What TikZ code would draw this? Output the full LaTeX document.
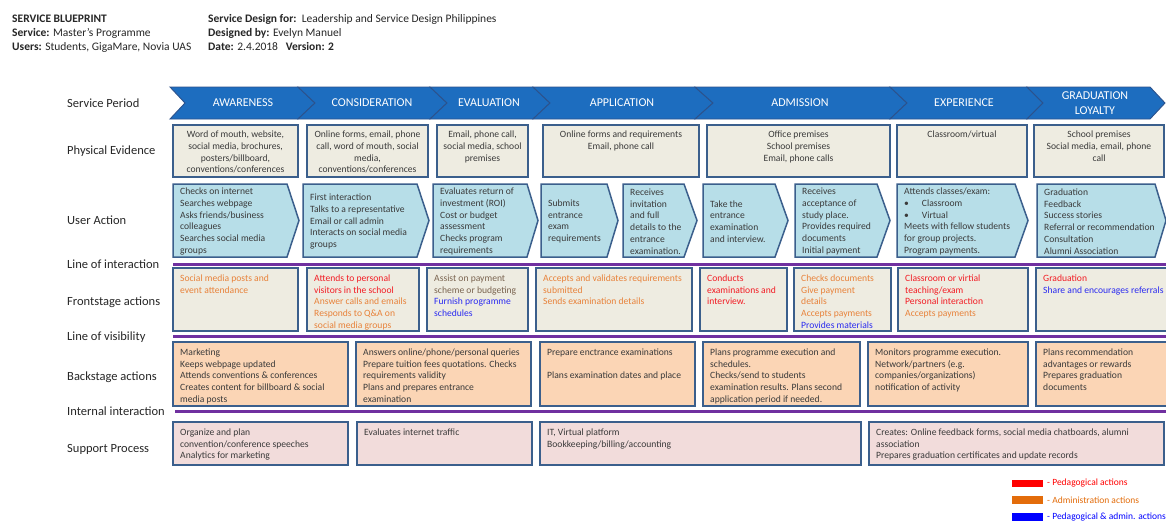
\documentclass[tikz,border=0pt]{standalone}
\usepackage{fontspec}
\setmainfont{Carlito}
\definecolor{chevblue}{HTML}{1D6DBF}
\definecolor{chevline}{HTML}{2C528C}
\definecolor{boxline}{HTML}{3B5F8C}
\definecolor{beige}{HTML}{EEECE1}
\definecolor{lightblue}{HTML}{B7DEE8}
\definecolor{peach}{HTML}{FBD5B5}
\definecolor{pinkish}{HTML}{F2DCDB}
\definecolor{purp}{HTML}{7030A0}
\definecolor{txt}{HTML}{3A3A3A}
\definecolor{ored}{HTML}{F21C24}
\definecolor{oorange}{HTML}{E8823A}
\definecolor{oblue}{HTML}{2B2BF0}
\definecolor{obrown}{HTML}{7A6450}
\definecolor{legred}{HTML}{FF0000}
\definecolor{legorange}{HTML}{E36C0A}
\definecolor{legblue}{HTML}{0000FF}
\newcommand\boxfont{\fontsize{9.6}{11.7}\selectfont}
\newcommand\rowfont{\fontsize{12.5}{14}\selectfont}
\newcommand\headfont{\fontsize{11.5}{14}\selectfont}
\newcommand\cRed[1]{\textcolor{ored}{#1}}
\newcommand\cOra[1]{\textcolor{oorange}{#1}}
\newcommand\cBlu[1]{\textcolor{oblue}{#1}}
\newcommand\cBro[1]{\textcolor{obrown}{#1}}
\newcommand\peBox[6]{%
  \draw[pebox] (#2,#4) rectangle (#3,#5);
  \node[petext, anchor=north] (#1) at ({(#2+#3)/2},{#4+6}) {#6};}
\newcommand\uaBox[5]{%
  \draw[uabox] (#2,184) -- (#3,184) -- (#4,220.5) -- (#3,257) -- (#2,257) -- cycle;
  \node[boxtext, anchor=west] (#1) at ({#2+7},221.5) {#5};}
\newcommand\plainBox[7]{%
  \draw[#7] (#2,#4) rectangle (#3,#5);
  \node[boxtext, anchor=north west] (#1) at ({#2+7},{#4+6.5}) {#6};}
\newcommand\chevron[7]{%
  \draw[chev] (#2,87) -- (#4,87) -- (#5,103) -- (#4,119) -- (#2,119) -- (#3,103) -- cycle;
  \node[chevtext] (#1) at (#6,103) {#7};}
\tikzset{
  pebox/.style={draw=boxline, line width=1.8pt, fill=beige},
  uabox/.style={draw=boxline, line width=1.5pt, fill=lightblue, line join=miter},
  fsbox/.style={draw=boxline, line width=1.8pt, fill=beige},
  bsbox/.style={draw=boxline, line width=1.8pt, fill=peach},
  spbox/.style={draw=boxline, line width=1.8pt, fill=pinkish},
  petext/.style={font=\boxfont, text=txt, align=center, inner sep=0pt},
  boxtext/.style={font=\boxfont, text=txt, align=left, inner sep=0pt},
  chev/.style={fill=chevblue, draw=chevline, line width=0.9pt},
  chevtext/.style={font=\fontsize{12}{15}\selectfont, text=white, align=center, inner sep=0pt},
  rowlabel/.style={font=\rowfont, text=black!85, anchor=west, inner sep=0pt},
  head/.style={font=\headfont, text=black!85, anchor=west, inner sep=0pt},
  sepline/.style={draw=purp, line width=2.6pt},
  leg/.style={font=\fontsize{9.5}{11}\selectfont, anchor=west, inner sep=0pt},
}
\begin{document}
\begin{tikzpicture}[x=1pt,y=-1pt]
\useasboundingbox (0,0) rectangle (1166,523);
\fill[white] (0,0) rectangle (1166,523);
% header
\node[head] (h1) at (12,19) {\textbf{SERVICE BLUEPRINT}};
\node[head] (h2) at (12,33) {\textbf{Service:} Master’s Programme};
\node[head] (h3) at (12,47) {\textbf{Users:} Students, GigaMare, Novia UAS};
\node[head] (h4) at (208,19) {\textbf{Service Design for:}\ \ Leadership and Service Design Philippines};
\node[head] (h5) at (208,33) {\textbf{Designed by:} Evelyn Manuel};
\node[head] (h6) at (208,47) {\textbf{Date:} 2.4.2018\ \ \ \textbf{Version: 2}};
% row labels
\node[rowlabel] (l1) at (67,103) {Service Period};
\node[rowlabel] (l2) at (67,151) {Physical Evidence};
\node[rowlabel] (l3) at (67,220) {User Action};
\node[rowlabel] (l4) at (67,264) {Line of interaction};
\node[rowlabel] (l5) at (67,302) {Frontstage actions};
\node[rowlabel] (l6) at (67,337) {Line of visibility};
\node[rowlabel] (l7) at (67,377) {Backstage actions};
\node[rowlabel] (l8) at (67,411) {Internal interaction};
\node[rowlabel] (l9) at (67,449) {Support Process};
% service period chevrons
\chevron{c1}{170}{185}{298}{315}{243}{AWARENESS}
\chevron{c2}{298}{315}{430}{447}{372}{CONSIDERATION}
\chevron{c3}{430}{447}{533}{550}{489}{EVALUATION}
\chevron{c4}{533}{550}{695}{713}{622}{APPLICATION}
\chevron{c5}{695}{713}{890}{907}{800}{ADMISSION}
\chevron{c6}{890}{907}{1027}{1043}{964}{EXPERIENCE}
\chevron{c7}{1027}{1043}{1150}{1165}{1095}{GRADUATION\\LOYALTY}
% physical evidence
\peBox{p1}{173}{298}{125}{177}{Word of mouth, website,\\social media, brochures,\\posters/billboard,\\conventions/conferences}
\peBox{p2}{307}{428}{125}{177}{Online forms, email, phone\\call, word of mouth, social\\media,\\conventions/conferences}
\peBox{p3}{437}{528}{125}{177}{Email, phone call,\\social media, school\\premises}
\peBox{p4}{543}{699}{125}{177}{Online forms and requirements\\Email, phone call}
\peBox{p5}{707}{890}{125}{177}{Office premises\\School premises\\Email, phone calls}
\peBox{p6}{897}{1027}{125}{177}{Classroom/virtual}
\peBox{p7}{1034}{1164}{125}{177}{School premises\\Social media, email, phone\\call}
% user actions
\uaBox{u1}{173}{287}{299}{Checks on internet\\Searches webpage\\Asks friends/business\\colleagues\\Searches social media\\groups}
\uaBox{u2}{303}{417}{429}{First interaction\\Talks to a representative\\Email or call admin\\Interacts on social media\\groups}
\uaBox{u3}{433}{527}{538}{Evaluates return of\\investment (ROI)\\Cost or budget\\assessment\\Checks program\\requirements}
\uaBox{u4}{541}{607}{618}{Submits\\entrance\\exam\\requirements}
\uaBox{u5}{623}{684}{697}{Receives\\invitation\\and full\\details to the\\entrance\\examination.}
\uaBox{u6}{703}{775}{788}{Take the\\entrance\\examination\\and interview.}
\uaBox{u7}{795}{877}{890}{Receives\\acceptance of\\study place.\\Provides required\\documents\\Initial payment}
\uaBox{u8}{897}{1015}{1028}{Attends classes/exam:\\\textbullet\hspace{13pt}Classroom\\\textbullet\hspace{13pt}Virtual\\Meets with fellow students\\for group projects.\\Program payments.}
\uaBox{u9}{1037}{1155}{1166}{Graduation\\Feedback\\Success stories\\Referral or recommendation\\Consultation\\Alumni Association}
% separator lines
\coordinate (s1a) at (173,264.5); \coordinate (s1b) at (1166,264.5);
\coordinate (s2a) at (173,336.5); \coordinate (s2b) at (1166,336.5);
\coordinate (s3a) at (175,411.5); \coordinate (s3b) at (1166,411.5);
\draw[sepline] (s1a) -- (s1b);
\draw[sepline] (s2a) -- (s2b);
\draw[sepline] (s3a) -- (s3b);
% frontstage
\plainBox{f1}{173}{298}{268}{331}{\cOra{Social media posts and}\\\cOra{event attendance}}{fsbox}
\plainBox{f2}{307}{419}{268}{331}{\cRed{Attends to personal}\\\cRed{visitors in the school}\\\cOra{Answer calls and emails}\\\cOra{Responds to Q\&A on}\\\cOra{social media groups}}{fsbox}
\plainBox{f3}{427}{528}{268}{331}{\cBro{Assist on payment}\\\cBro{scheme or budgeting}\\\cBlu{Furnish programme}\\\cBlu{schedules}}{fsbox}
\plainBox{f4}{536}{692}{268}{331}{\cOra{Accepts and validates requirements}\\\cOra{submitted}\\\cOra{Sends examination details}}{fsbox}
\plainBox{f5}{700}{787}{268}{331}{\cRed{Conducts}\\\cRed{examinations and}\\\cRed{interview.}}{fsbox}
\plainBox{f6}{794}{891}{268}{331}{\cOra{Checks documents}\\\cOra{Give payment}\\\cOra{details}\\\cOra{Accepts payments}\\\cBlu{Provides materials}}{fsbox}
\plainBox{f7}{898}{1028}{268}{331}{\cRed{Classroom or virtial}\\\cRed{teaching/exam}\\\cRed{Personal interaction}\\\cOra{Accepts payments}}{fsbox}
\plainBox{f8}{1036}{1170}{268}{331}{\cRed{Graduation}\\\cBlu{Share and encourages referrals}}{fsbox}
% backstage
\plainBox{b1}{173}{348}{342}{406}{Marketing\\Keeps webpage updated\\Attends conventions \& conferences\\Creates content for billboard \& social\\media posts}{bsbox}
\plainBox{b2}{356}{531}{342}{406}{Answers online/phone/personal queries\\Prepare tuition fees quotations. Checks\\requirements validity\\Plans and prepares entrance\\examination}{bsbox}
\plainBox{b3}{540}{695}{342}{406}{Prepare enctrance examinations\\[11.7pt]Plans examination dates and place}{bsbox}
\plainBox{b4}{703}{860}{342}{406}{Plans programme execution and\\schedules.\\Checks/send to students\\examination results. Plans second\\application period if needed.}{bsbox}
\plainBox{b5}{868}{1028}{342}{406}{Monitors programme execution.\\Network/partners (e.g.\\companies/organizations)\\notification of activity}{bsbox}
\plainBox{b6}{1036}{1170}{342}{406}{Plans recommendation\\advantages or rewards\\Prepares graduation\\documents}{bsbox}
% support
\plainBox{s1}{173}{348}{422}{465}{Organize and plan\\convention/conference speeches\\Analytics for marketing}{spbox}
\plainBox{s2}{357}{532}{422}{465}{Evaluates internet traffic}{spbox}
\plainBox{s3}{540}{861}{422}{465}{IT, Virtual platform\\Bookkeeping/billing/accounting}{spbox}
\plainBox{s4}{869}{1164}{422}{465}{Creates: Online feedback forms, social media chatboards, alumni\\association\\Prepares graduation certificates and update records}{spbox}
% legend
\fill[legred] (1012,479.5) rectangle (1043,487);
\fill[legorange] (1012,496) rectangle (1043,503.5);
\fill[legblue] (1012,513) rectangle (1043,520.5);
\node[leg, text=legred] (g1) at (1047,483.5) {- Pedagogical actions};
\node[leg, text=legorange] (g2) at (1047,500) {- Administration actions};
\node[leg, text=legblue] (g3) at (1047,517) {- Pedagogical \& admin. actions};
\end{tikzpicture}
\end{document}
